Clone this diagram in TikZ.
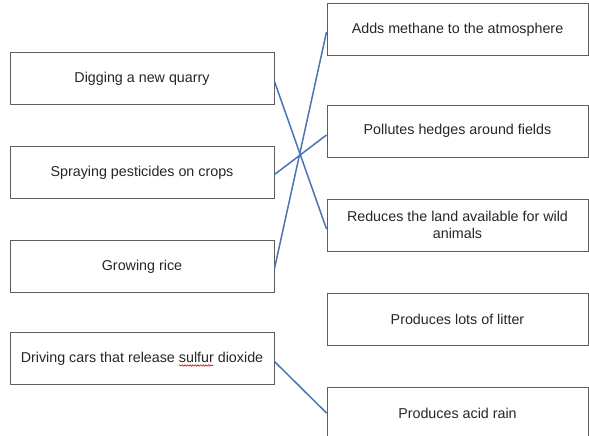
\documentclass[tikz,border=0pt]{standalone}
\usepackage{fontspec}
\setmainfont{Liberation Sans}
\usepackage{xcolor}
\usepackage{tikz}
\usetikzlibrary{positioning,decorations.pathmorphing}

\definecolor{boxline}{HTML}{5E5E5E}
\definecolor{linkblue}{HTML}{4A74B4}
\definecolor{labeltext}{HTML}{262626}

\begin{document}
\begin{tikzpicture}[x=1pt, y=-1pt, node distance=41pt,
    box/.style={rectangle, draw=boxline, line width=1pt, minimum height=52pt,
        text=labeltext, align=center, font=\fontsize{14.3}{17}\selectfont},
    leftbox/.style={box, minimum width=264pt},
    rightbox/.style={box, minimum width=261pt},
    link/.style={draw=linkblue, line width=1.5pt},
    squiggle/.style={draw=red!85!black, line width=0.6pt, decorate,
        decoration={snake, amplitude=0.7pt, segment length=2.6pt}}]
        \useasboundingbox (0,0) rectangle (589,436);

        \node (quarry) [leftbox] at (142,78.5) {Digging a new quarry};
        \node (spray) [leftbox, below=of quarry] {Spraying pesticides on crops};
        \node (rice) [leftbox, below=of spray] {Growing rice};
        \node (cars) [leftbox, below=39pt of rice] {Driving cars that release sulfur dioxide};

        \node (methane) [rightbox] at (457.5,30) {Adds methane to the atmosphere};
        \node (hedges) [rightbox, below=48pt of methane] {Pollutes hedges around fields};
        \node (land) [rightbox, below=of hedges] {Reduces the land available for wild\\animals};
        \node (litter) [rightbox, below=of land] {Produces lots of litter};
        \node (acid) [rightbox, below=of litter] {Produces acid rain};

        % spell-check mark under "sulfur"
        \coordinate (sulfurL) at ([shift={(37,7)}]cars.center);
        \coordinate (sulfurR) at ([shift={(71,7)}]cars.center);
        \draw[squiggle] (sulfurL) -- (sulfurR);

        \draw[link] ([yshift=-3pt]quarry.east) -- ([yshift=-4pt]land.west);
        \draw[link] ([yshift=-2pt]spray.east) -- ([yshift=-4pt]hedges.west);
        \draw[link] ([yshift=-2pt]rice.east) -- ([yshift=-2pt]methane.west);
        \draw[link] ([yshift=-3pt]cars.east) -- (acid.west);
    \end{tikzpicture}
\end{document}
